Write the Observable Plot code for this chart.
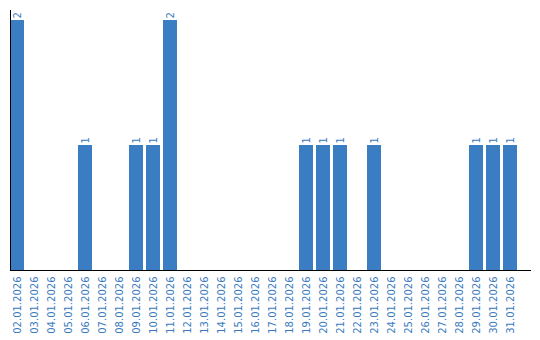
<!DOCTYPE html>
<html>
<head>
<meta charset="utf-8">
<script src="https://cdn.jsdelivr.net/npm/d3@7"></script>
<script src="https://cdn.jsdelivr.net/npm/@observablehq/plot@0.6"></script>
<style>
body { margin: 0; background: #fff; }
#chart svg { display: block; }
</style>
</head>
<body>
<div id="chart"></div>
<script>
const dates = ["02.01.2026","03.01.2026","04.01.2026","05.01.2026","06.01.2026","07.01.2026","08.01.2026","09.01.2026","10.01.2026","11.01.2026","12.01.2026","13.01.2026","14.01.2026","15.01.2026","16.01.2026","17.01.2026","18.01.2026","19.01.2026","20.01.2026","21.01.2026","22.01.2026","23.01.2026","24.01.2026","25.01.2026","26.01.2026","27.01.2026","28.01.2026","29.01.2026","30.01.2026","31.01.2026"];
const counts = [2,0,0,0,1,0,0,1,1,2,0,0,0,0,0,0,0,1,1,1,0,1,0,0,0,0,0,1,1,1];

const data = dates.map((d, i) => ({date: d, count: counts[i]}));
const nonZero = data.filter(d => d.count > 0);
const barColor = "#3b7dc3";
const textColor = "#3a7bc0";

const chart = Plot.plot({
  width: 540,
  height: 340,
  marginLeft: 10,
  marginRight: 9,
  marginTop: 10,
  marginBottom: 70,
  style: {fontFamily: "DejaVu Sans", fontSize: "10px", background: "#fff"},
  x: {domain: dates, range: [10, 517], paddingInner: 3/17, paddingOuter: 0, label: null},
  y: {domain: [0, 2.08], axis: null},
  marks: [
    Plot.barY(nonZero, {x: "date", y: "count", fill: barColor}),
    Plot.text(nonZero, {x: "date", y: "count", text: d => String(d.count), rotate: -90, textAnchor: "start", dy: -2, fill: textColor, fontSize: 10}),
    Plot.axisX({tickSize: 0, tickPadding: 6, tickRotate: -90, textAnchor: "end", fill: textColor, fontSize: 10, label: null}),
    Plot.frame({anchor: "left", stroke: "#000"}),
    Plot.ruleY([0], {stroke: "#000"})
  ]
});
document.getElementById("chart").append(chart);
</script>
</body>
</html>
